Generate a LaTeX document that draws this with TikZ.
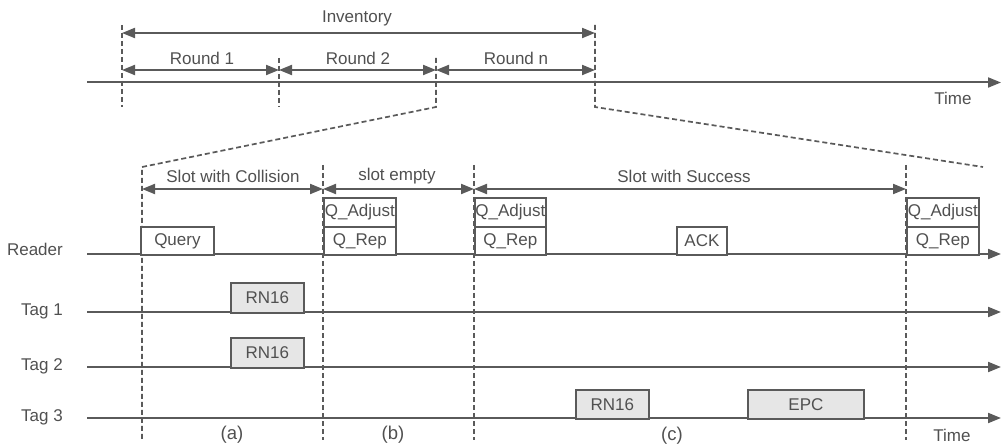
\documentclass[tikz,border=0pt]{standalone}
\usepackage{fontspec}
\setmainfont{Liberation Sans}
\usetikzlibrary{arrows.meta}
\definecolor{ln}{HTML}{5A5A5A}
\definecolor{tx}{HTML}{505050}
\definecolor{boxfill}{HTML}{E6E6E6}
\tikzset{
  lbl/.style={text=tx,font=\fontsize{17}{19}\selectfont,inner sep=0pt},
  caplbl/.style={lbl,font=\fontsize{18.5}{20}\selectfont},
  axisline/.style={draw=ln,line width=2pt,-{Triangle[length=13pt,width=10pt]}},
  spanline/.style={draw=ln,line width=2pt,{Triangle[length=13pt,width=10pt]}-{Triangle[length=13pt,width=10pt]}},
  guide/.style={draw=ln,line width=1.7pt,dash pattern=on 5pt off 3pt},
  msgbox/.style={draw=ln,line width=1.8pt,fill=white,text=tx,font=\fontsize{17}{19}\selectfont,inner sep=0pt,anchor=north west},
  tagbox/.style={msgbox,fill=boxfill}
}
\begin{document}
\begin{tikzpicture}[x=1pt,y=-1pt]
\useasboundingbox (0,0) rectangle (1001,446);

% ---------- top: inventory / rounds ----------
\coordinate (g1t) at (122,25);  \coordinate (g1b) at (122,107);
\coordinate (g2t) at (279,58);  \coordinate (g2b) at (279,107);
\coordinate (g3t) at (436,58);  \coordinate (g3b) at (436,107);
\coordinate (g4t) at (595,25);  \coordinate (g4b) at (595,107);
\coordinate (zl) at (142,167);  \coordinate (zlb) at (142,440);
\coordinate (zr) at (983,167);

\draw[guide] (g1t) -- (g1b);
\draw[guide] (g2t) -- (g2b);
\draw[guide] (g3t) -- (g3b) -- (zl) -- (zlb);
\draw[guide] (g4t) -- (g4b) -- (zr);

\coordinate (inva) at (122,33); \coordinate (invb) at (595,33);
\draw[spanline] (inva) -- (invb);
\node[lbl] (inv) at (357,18) {Inventory};

\coordinate (r0) at (122,70); \coordinate (r1) at (279,70);
\coordinate (r2) at (436,70); \coordinate (r3) at (595,70);
\draw[spanline] (r0) -- (r1);
\draw[spanline] (r1) -- (r2);
\draw[spanline] (r2) -- (r3);
\node[lbl] (rd1) at (202,58) {Round 1};
\node[lbl] (rd2) at (358,58) {Round 2};
\node[lbl] (rdn) at (516,58) {Round n};

\coordinate (ta) at (87,82.5); \coordinate (tb) at (1001,82.5);
\draw[axisline] (ta) -- (tb);
\node[lbl] (time1) at (953,98) {Time};

% ---------- bottom: slots ----------
\coordinate (s2t) at (323,165); \coordinate (s2b) at (323,440);
\coordinate (s3t) at (474,165); \coordinate (s3b) at (474,440);
\coordinate (s4t) at (906,165); \coordinate (s4b) at (906,440);
\draw[guide] (s2t) -- (s2b);
\draw[guide] (s3t) -- (s3b);
\draw[guide] (s4t) -- (s4b);

\coordinate (sa) at (142,189); \coordinate (sb) at (323,189);
\coordinate (sc) at (474,189); \coordinate (sd) at (906,189);
\draw[spanline] (sa) -- (sb);
\draw[spanline] (sb) -- (sc);
\draw[spanline] (sc) -- (sd);
\node[lbl] (coll) at (233,176) {Slot with Collision};
\node[lbl] (empt) at (397,176) {slot empty};
\node[lbl] (succ) at (684,176) {Slot with Success};

% time lines
\coordinate (rda) at (87,254);  \coordinate (rdb) at (1001,254);
\coordinate (t1a) at (87,312);  \coordinate (t1b) at (1001,312);
\coordinate (t2a) at (87,367);  \coordinate (t2b) at (1001,367);
\coordinate (t3a) at (87,418);  \coordinate (t3b) at (1001,418);
\draw[axisline] (rda) -- (rdb);
\draw[axisline] (t1a) -- (t1b);
\draw[axisline] (t2a) -- (t2b);
\draw[axisline] (t3a) -- (t3b);

\node[lbl,anchor=east] (reader) at (63,249) {Reader};
\node[lbl,anchor=east] (tag1) at (63,311) {Tag 1};
\node[lbl,anchor=east] (tag2) at (63,366) {Tag 2};
\node[lbl,anchor=east] (tag3) at (63,417) {Tag 3};

% reader messages
\node[msgbox,minimum width=73pt,minimum height=28pt] (query) at (140,226) {Query};
\node[msgbox,minimum width=72pt,minimum height=29pt] (qa1) at (323,197) {Q\_Adjust};
\node[msgbox,minimum width=72pt,minimum height=28pt] (qr1) at (323,226) {Q\_Rep};
\node[msgbox,minimum width=71pt,minimum height=29pt] (qa2) at (474,197) {Q\_Adjust};
\node[msgbox,minimum width=71pt,minimum height=28pt] (qr2) at (474,226) {Q\_Rep};
\node[msgbox,minimum width=50pt,minimum height=28pt] (ack) at (676,226) {ACK};
\node[msgbox,minimum width=72pt,minimum height=29pt] (qa3) at (906,197) {Q\_Adjust};
\node[msgbox,minimum width=72pt,minimum height=28pt] (qr3) at (906,226) {Q\_Rep};

% tag replies
\node[tagbox,minimum width=73pt,minimum height=30pt] (rn1) at (230,282) {RN16};
\node[tagbox,minimum width=73pt,minimum height=30pt] (rn2) at (230,337) {RN16};
\node[tagbox,minimum width=73pt,minimum height=29pt] (rn3) at (575,389) {RN16};
\node[tagbox,minimum width=116pt,minimum height=29pt] (epc) at (747,389) {EPC};

% captions
\node[caplbl] (capa) at (232,435) {(a)};
\node[caplbl] (capb) at (393,435) {(b)};
\node[caplbl] (capc) at (672,436) {(c)};
\node[lbl] (time2) at (952,435) {Time};
\end{tikzpicture}
\end{document}
